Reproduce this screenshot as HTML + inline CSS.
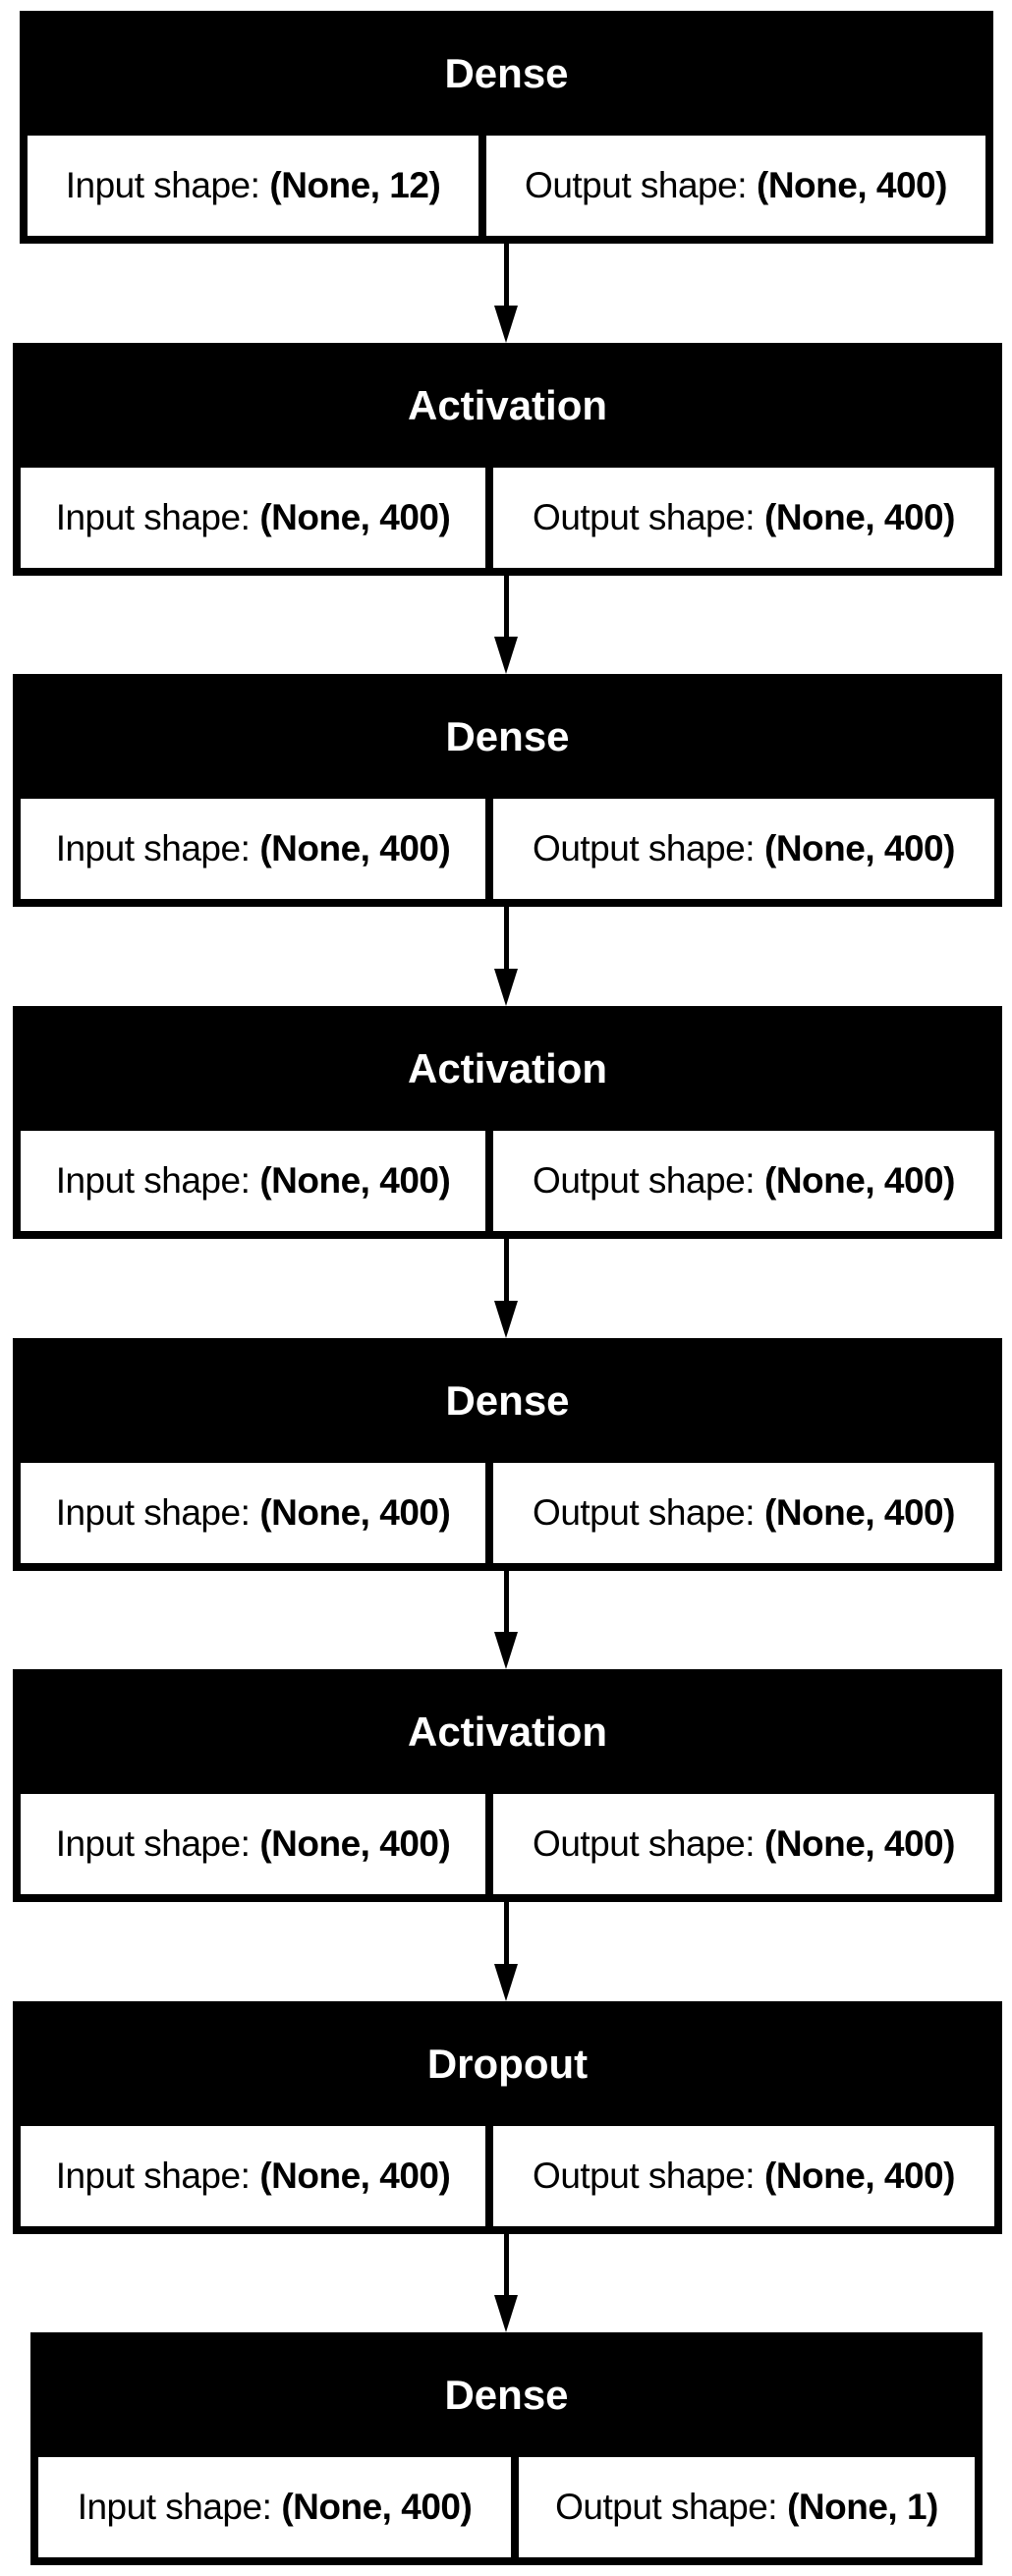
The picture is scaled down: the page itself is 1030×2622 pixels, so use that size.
<!DOCTYPE html>
<html><head><meta charset="utf-8"><style>
html,body{margin:0;padding:0;background:#fff;}
body{width:1030px;height:2622px;position:relative;overflow:hidden;font-family:"Liberation Sans",Arial,sans-serif;}
.box{position:absolute;background:#000;box-sizing:border-box;padding:0 8px 8px 8px;height:237px;}
.hd{height:127px;color:#fff;font-weight:bold;font-size:42px;display:flex;align-items:center;justify-content:center;box-sizing:border-box;}
.row{display:flex;height:102px;}
.c{background:#fff;height:102px;display:flex;align-items:center;justify-content:center;font-size:37px;white-space:nowrap;color:#000;letter-spacing:-0.5px;}
.c b{margin-left:10px;}
.ln{position:absolute;left:513px;width:5px;background:#000;}
.ah{position:absolute;left:503px;width:0;height:0;border-left:12.5px solid transparent;border-right:12.5px solid transparent;border-top:38px solid #000;}
</style></head><body>

<div class="box" style="left:20px;top:11px;width:991px;">
<div class="hd">Dense</div>
<div class="row"><div class="c" style="width:459px;">Input shape: <b>(None, 12)</b></div><div class="c" style="width:508px;margin-left:8px;">Output shape: <b>(None, 400)</b></div></div></div>

<div class="box" style="left:13px;top:349px;width:1007px;">
<div class="hd">Activation</div>
<div class="row"><div class="c" style="width:473px;">Input shape: <b>(None, 400)</b></div><div class="c" style="width:510px;margin-left:8px;">Output shape: <b>(None, 400)</b></div></div></div>

<div class="box" style="left:13px;top:686px;width:1007px;">
<div class="hd">Dense</div>
<div class="row"><div class="c" style="width:473px;">Input shape: <b>(None, 400)</b></div><div class="c" style="width:510px;margin-left:8px;">Output shape: <b>(None, 400)</b></div></div></div>

<div class="box" style="left:13px;top:1024px;width:1007px;">
<div class="hd">Activation</div>
<div class="row"><div class="c" style="width:473px;">Input shape: <b>(None, 400)</b></div><div class="c" style="width:510px;margin-left:8px;">Output shape: <b>(None, 400)</b></div></div></div>

<div class="box" style="left:13px;top:1362px;width:1007px;">
<div class="hd">Dense</div>
<div class="row"><div class="c" style="width:473px;">Input shape: <b>(None, 400)</b></div><div class="c" style="width:510px;margin-left:8px;">Output shape: <b>(None, 400)</b></div></div></div>

<div class="box" style="left:13px;top:1699px;width:1007px;">
<div class="hd">Activation</div>
<div class="row"><div class="c" style="width:473px;">Input shape: <b>(None, 400)</b></div><div class="c" style="width:510px;margin-left:8px;">Output shape: <b>(None, 400)</b></div></div></div>

<div class="box" style="left:13px;top:2037px;width:1007px;">
<div class="hd">Dropout</div>
<div class="row"><div class="c" style="width:473px;">Input shape: <b>(None, 400)</b></div><div class="c" style="width:510px;margin-left:8px;">Output shape: <b>(None, 400)</b></div></div></div>

<div class="box" style="left:31px;top:2374px;width:969px;">
<div class="hd">Dense</div>
<div class="row"><div class="c" style="width:481px;">Input shape: <b>(None, 400)</b></div><div class="c" style="width:464px;margin-left:8px;">Output shape: <b>(None, 1)</b></div></div></div>

<div class="ln" style="top:248px;height:64px;"></div><div class="ah" style="top:311px;"></div>
<div class="ln" style="top:586px;height:64px;"></div><div class="ah" style="top:648px;"></div>
<div class="ln" style="top:923px;height:64px;"></div><div class="ah" style="top:986px;"></div>
<div class="ln" style="top:1261px;height:64px;"></div><div class="ah" style="top:1324px;"></div>
<div class="ln" style="top:1599px;height:64px;"></div><div class="ah" style="top:1661px;"></div>
<div class="ln" style="top:1936px;height:64px;"></div><div class="ah" style="top:1999px;"></div>
<div class="ln" style="top:2274px;height:64px;"></div><div class="ah" style="top:2336px;"></div>

</body></html>
